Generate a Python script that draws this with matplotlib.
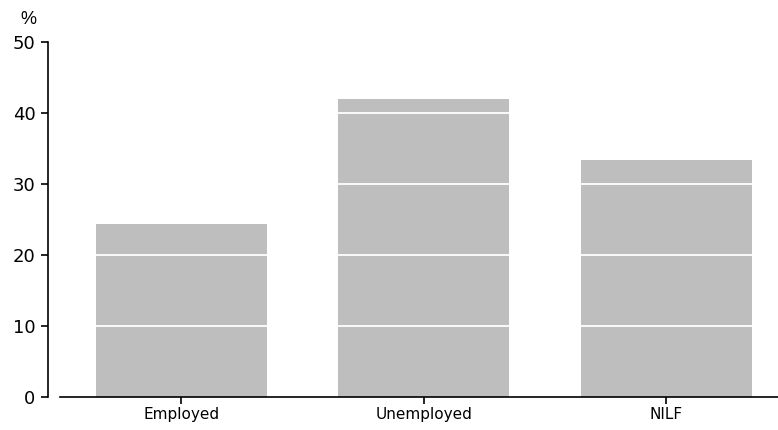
import matplotlib.pyplot as plt

categories = ['Employed', 'Unemployed', 'NILF']
values = [24.4, 42.0, 33.4]
yticks = [0, 10, 20, 30, 40, 50]

fig = plt.figure(figsize=(7.78, 4.3), dpi=100)
ax = fig.add_axes([60 / 778, 1 - 397 / 430, 718 / 778, 355 / 430])

x = range(len(categories))
ax.bar(x, values, width=0.705, color='#bebebe', zorder=1)
for t in yticks[1:-1]:
    ax.axhline(t, color='white', lw=1.3, zorder=2)

ax.set_xlim(-0.5, 2.46)
ax.set_ylim(0, 50)
ax.set_yticks(yticks)
ax.set_xticks(list(x))
ax.set_xticklabels(categories, fontsize=11, family=['Liberation Sans Narrow', 'DejaVu Sans'])
ax.tick_params(axis='y', labelsize=13, length=5, width=1.2, pad=4)
ax.tick_params(axis='x', length=5, width=1.2, pad=2)
for lab in ax.get_yticklabels():
    lab.set_family(['Liberation Sans', 'DejaVu Sans'])

ax.spines['top'].set_visible(False)
ax.spines['right'].set_visible(False)
ax.spines['left'].set_position(('outward', 8.6))
ax.spines['left'].set_linewidth(1.2)
ax.spines['bottom'].set_linewidth(1.2)

fig.text(28 / 778, 1 - 19 / 430, '%', fontsize=13, ha='center', va='center',
         family=['Liberation Sans', 'DejaVu Sans'])

fig.savefig('out.png', dpi=100)
